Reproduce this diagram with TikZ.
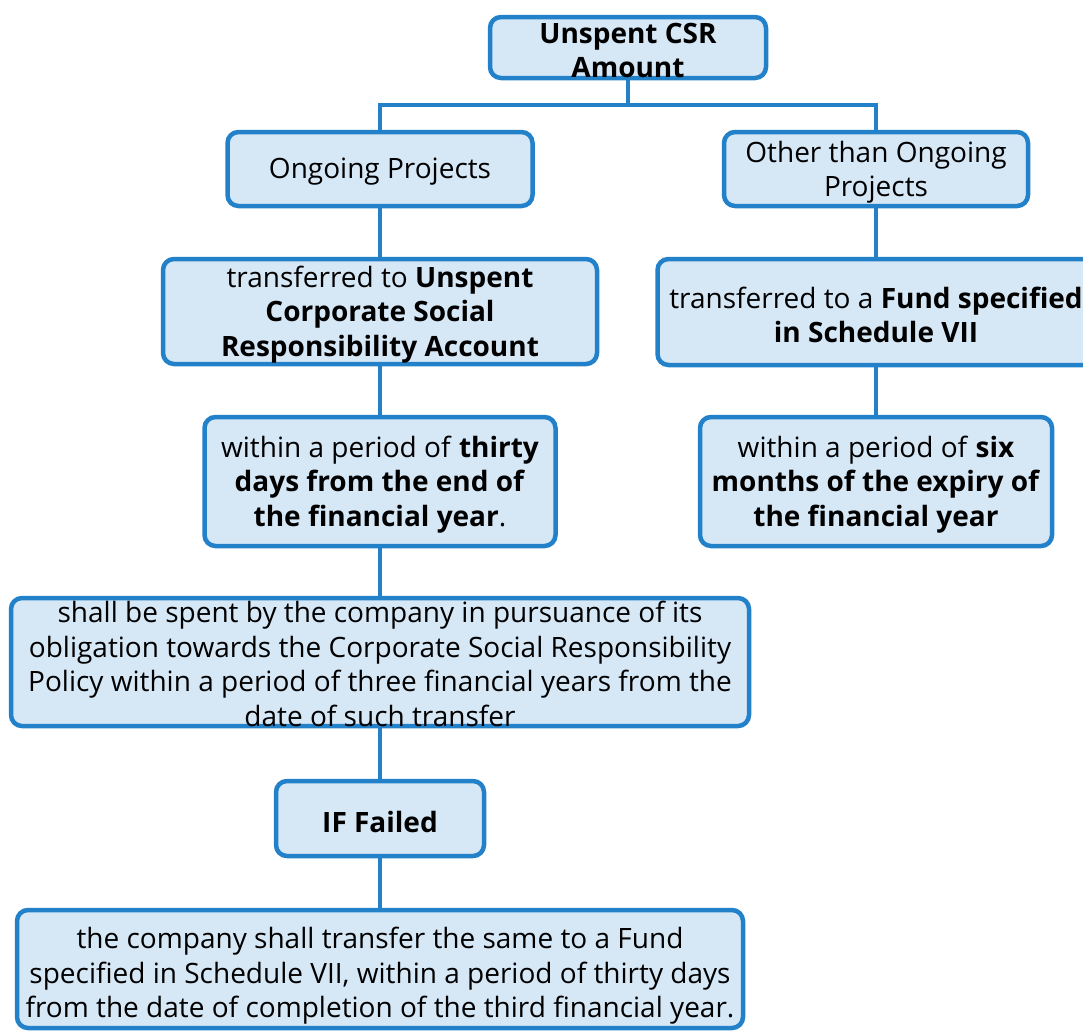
\documentclass[tikz,border=0pt]{standalone}
\usepackage{fontspec}
\setmainfont{Open Sans}
\definecolor{boxline}{RGB}{34,129,201}
\definecolor{boxfill}{RGB}{214,231,246}
\begin{document}
\begin{tikzpicture}[x=1pt,y=-1pt,
  box/.style={draw=boxline, fill=boxfill, line width=4.5pt, rounded corners=11pt, inner sep=0pt},
  caption/.style={align=center, inner sep=0pt, yshift=-3pt, font=\fontsize{28}{34.5}\selectfont},
  link/.style={draw=boxline, line width=4.5pt}]
\useasboundingbox (0,0) rectangle (1083,1034);

% boxes
\node[box, minimum width=276pt, minimum height=61pt]  (top)    at (628,47.5) {};
\node[box, minimum width=305pt, minimum height=74pt]  (ongo)   at (380,169)  {};
\node[box, minimum width=304pt, minimum height=74pt]  (other)  at (876,169)  {};
\node[box, minimum width=434pt, minimum height=105pt] (uacc)   at (380,311.5) {};
\node[box, minimum width=437pt, minimum height=106pt] (fund)   at (876,312)  {};
\node[box, minimum width=351pt, minimum height=129pt] (thirty) at (380,481.5) {};
\node[box, minimum width=352pt, minimum height=129pt] (six)    at (876,481.5) {};
\node[box, minimum width=738pt, minimum height=128pt] (spend)  at (380,662)  {};
\node[box, minimum width=208pt, minimum height=75pt]  (failed) at (380,818.5) {};
\node[box, minimum width=726pt, minimum height=118pt] (final)  at (380,969)  {};

% connectors
\coordinate (split) at (628,105);
\draw[link] (top.south) -- (split);
\draw[link] (ongo.north) |- (split) -| (other.north);
\draw[link] (ongo.south) -- (uacc.north);
\draw[link] (uacc.south) -- (thirty.north);
\draw[link] (thirty.south) -- (spend.north);
\draw[link] (spend.south) -- (failed.north);
\draw[link] (failed.south) -- (final.north);
\draw[link] (other.south) -- (fund.north);
\draw[link] (fund.south) -- (six.north);

% texts
\node[caption] at (top) {\textbf{Unspent CSR}\\\textbf{Amount}};
\node[caption] at (ongo) {Ongoing Projects};
\node[caption] at (other) {Other than Ongoing\\Projects};
\node[caption] at (uacc) {transferred to \textbf{Unspent}\\\textbf{Corporate Social}\\\textbf{Responsibility Account}};
\node[caption] at (fund) {transferred to a \textbf{Fund specified}\\\textbf{in Schedule VII}};
\node[caption] at (thirty) {within a period of \textbf{thirty}\\\textbf{days from the end of}\\\textbf{the financial year}.};
\node[caption] at (six) {within a period of \textbf{six}\\\textbf{months of the expiry of}\\\textbf{the financial year}};
\node[caption, yshift=1pt] at (spend) {shall be spent by the company in pursuance of its\\obligation towards the Corporate Social Responsibility\\Policy within a period of three financial years from the\\date of such transfer};
\node[caption] at (failed) {\textbf{IF Failed}};
\node[caption, yshift=-4pt] at (final) {the company shall transfer the same to a Fund\\specified in Schedule VII, within a period of thirty days\\from the date of completion of the third financial year.};
\end{tikzpicture}
\end{document}
